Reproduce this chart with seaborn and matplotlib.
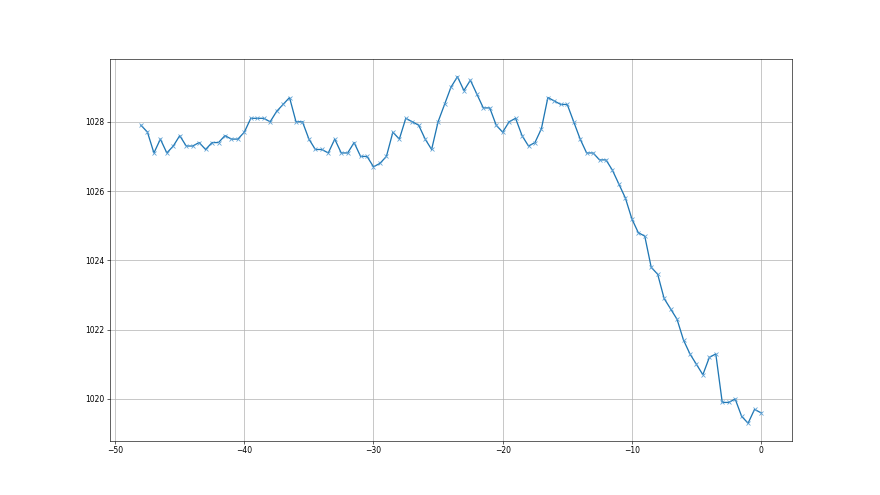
import matplotlib
matplotlib.use("Agg")
import matplotlib.pyplot as plt
import seaborn as sns
import numpy as np
import pandas as pd

x_start = -48.0
x_step = 0.5
pressure = [
    1027.9, 1027.7, 1027.1, 1027.5, 1027.1, 1027.3, 1027.6, 1027.3, 1027.3, 1027.4,
    1027.2, 1027.4, 1027.4, 1027.6, 1027.5, 1027.5, 1027.7, 1028.1, 1028.1, 1028.1,
    1028.0, 1028.3, 1028.5, 1028.7, 1028.0, 1028.0, 1027.5, 1027.2, 1027.2, 1027.1,
    1027.5, 1027.1, 1027.1, 1027.4, 1027.0, 1027.0, 1026.7, 1026.8, 1027.0, 1027.7,
    1027.5, 1028.1, 1028.0, 1027.9, 1027.5, 1027.2, 1028.0, 1028.5, 1029.0, 1029.3,
    1028.9, 1029.2, 1028.8, 1028.4, 1028.4, 1027.9, 1027.7, 1028.0, 1028.1, 1027.6,
    1027.3, 1027.4, 1027.8, 1028.7, 1028.6, 1028.5, 1028.5, 1028.0, 1027.5, 1027.1,
    1027.1, 1026.9, 1026.9, 1026.6, 1026.2, 1025.8, 1025.2, 1024.8, 1024.7, 1023.8,
    1023.6, 1022.9, 1022.6, 1022.3, 1021.7, 1021.3, 1021.0, 1020.7, 1021.2, 1021.3,
    1019.9, 1019.9, 1020.0, 1019.5, 1019.3, 1019.7, 1019.6,
]
hours = [x_start + i * x_step for i in range(len(pressure))]

df = pd.DataFrame({"hours": hours, "pressure": pressure})

fig, ax = plt.subplots(figsize=(16, 9), dpi=55)
sns.lineplot(data=df, x="hours", y="pressure", ax=ax, marker="x",
             color="#1f77b4", markeredgecolor="#5a9fd4", markeredgewidth=1.0,
             markersize=6, linewidth=1.7)
ax.grid(True, color="#b0b0b0", linewidth=0.9)
ax.set_xlabel("")
ax.set_ylabel("")
for s in ax.spines.values():
    s.set_color("black")
fig.savefig("out.png", dpi=55)
